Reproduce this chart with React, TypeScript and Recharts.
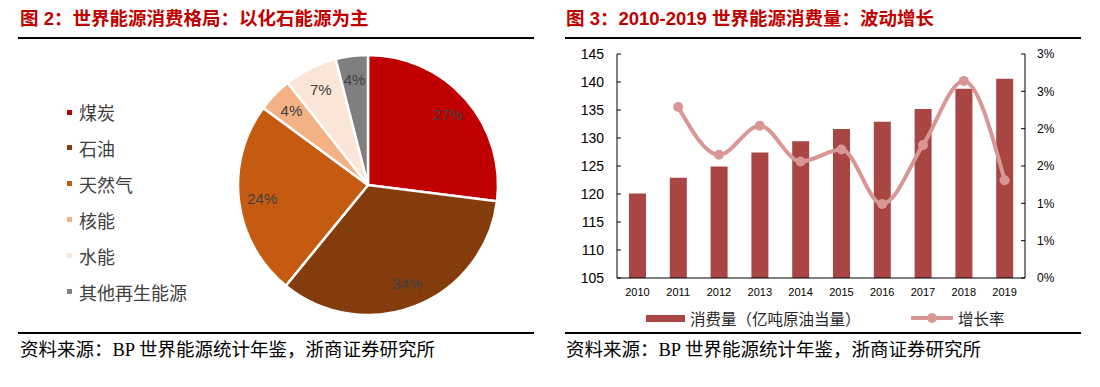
import React from 'react';
import { PieChart, Pie, Cell, ComposedChart, Bar, Line, XAxis, YAxis } from 'recharts';

// 图2 能源消费结构
const pieNames = ['煤炭', '石油', '天然气', '核能', '水能', '其他再生能源'];
const pieShares = [27.0, 33.9, 24.2, 4.3, 6.6, 4.0];
const pieColors = ['#C00000', '#843C0C', '#C55A11', '#F4B183', '#FBE5D6', '#7F7F7F'];

// 图3 2010-2019 消费量与增长率
const years = ['2010', '2011', '2012', '2013', '2014', '2015', '2016', '2017', '2018', '2019'];
const consumption = [120.1, 122.9, 124.9, 127.4, 129.4, 131.6, 132.9, 135.2, 138.8, 140.6];
const growth = [null, 2.29, 1.65, 2.04, 1.56, 1.72, 0.99, 1.78, 2.64, 1.31];
const leftTicks = [105, 110, 115, 120, 125, 130, 135, 140, 145];
const rightTicks = [0, 0.5, 1, 1.5, 2, 2.5, 3];
const boundaryTicks = [1, 2, 3, 4, 5, 6, 7, 8, 9];

const BAR_COLOR = '#A94543';
const LINE_COLOR = '#D89795';
const TITLE_COLOR = '#C00000';
const RAD = Math.PI / 180;

const titleFont = '"Liberation Sans", "Noto Sans CJK SC", sans-serif';
const serifFont = '"Liberation Serif", "Noto Sans CJK SC", serif';
const cjkFont = '"Noto Sans CJK SC", sans-serif';
const numFont = '"Liberation Sans", Arial, sans-serif';

const pieData = pieNames.map((name, i) => ({ name, value: pieShares[i] }));
const barData = years.map((year, i) => ({ year, consumption: consumption[i], growth: growth[i] }));

function PieLabel(props: any) {
  const { cx, cy, midAngle, outerRadius, percent } = props;
  const r = outerRadius * 0.82;
  const x = cx + r * Math.cos(-midAngle * RAD);
  const y = cy + r * Math.sin(-midAngle * RAD);
  return (
    <text x={x} y={y} fill="#404040" fontSize={15} fontFamily={numFont} textAnchor="middle" dominantBaseline="central">
      {`${Math.round(percent * 100)}%`}
    </text>
  );
}

function Rule({ left, top, width }: { left: number; top: number; width: number }) {
  return <div style={{ position: 'absolute', left, top, width, height: 1.5, background: '#000' }} />;
}

function Title({ left, text }: { left: number; text: string }) {
  return (
    <div
      style={{
        position: 'absolute', left, top: 7, fontFamily: titleFont, fontWeight: 'bold',
        fontSize: 18.5, color: TITLE_COLOR, whiteSpace: 'pre', lineHeight: '23px',
      }}
    >
      {text}
    </div>
  );
}

function Source({ left }: { left: number }) {
  return (
    <div
      style={{
        position: 'absolute', left, top: 339, fontFamily: serifFont, fontSize: 18.5,
        color: '#000', whiteSpace: 'pre', lineHeight: '23px',
      }}
    >
      资料来源：BP 世界能源统计年鉴，浙商证券研究所
    </div>
  );
}

export default function App() {
  return (
    <div style={{ position: 'absolute', left: 0, top: 0, width: 1100, height: 387, background: '#fff', overflow: 'hidden' }}>
      {/* left panel */}
      <Title left={20} text={'图 2：世界能源消费格局：以化石能源为主'} />
      <Rule left={18} top={37} width={516} />
      <div style={{ position: 'absolute', left: 0, top: 0 }}>
        <PieChart width={550} height={330} margin={{ top: 0, right: 0, bottom: 0, left: 0 }}>
          <Pie
            data={pieData}
            dataKey="value"
            nameKey="name"
            cx={368}
            cy={185}
            outerRadius={130}
            startAngle={90}
            endAngle={-270}
            stroke="#fff"
            strokeWidth={2.5}
            label={PieLabel}
            labelLine={false}
            isAnimationActive={false}
          >
            {pieData.map((d, i) => (
              <Cell key={d.name} fill={pieColors[i]} />
            ))}
          </Pie>
        </PieChart>
      </div>
      {pieNames.map((name, i) => (
        <div key={name} style={{ position: 'absolute', left: 67, top: 112 + i * 35.9 - 12, height: 24, display: 'flex', alignItems: 'center' }}>
          <div style={{ width: 5, height: 5, background: pieColors[i], marginRight: 7 }} />
          <span style={{ fontFamily: cjkFont, fontSize: 18, color: '#404040', lineHeight: '24px' }}>{name}</span>
        </div>
      ))}
      <Rule left={18} top={332} width={516} />
      <Source left={20} />

      {/* right panel */}
      <Title left={566} text={'图 3：2010-2019 世界能源消费量：波动增长'} />
      <Rule left={565} top={37} width={516} />
      <div style={{ position: 'absolute', left: 550, top: 0 }}>
        <ComposedChart width={550} height={330} data={barData} margin={{ top: 54, right: 25, bottom: 22, left: 17 }}>
          <XAxis
            xAxisId="grid"
            type="number"
            domain={[0, 10]}
            ticks={boundaryTicks}
            allowDataOverflow
            height={0}
            tick={false}
            axisLine={false}
            tickSize={-4}
            tickLine={{ stroke: '#000' }}
          />
          <XAxis
            dataKey="year"
            height={30}
            axisLine={{ stroke: '#000' }}
            tickLine={false}
            tickSize={0}
            tickMargin={10}
            tick={{ fill: '#000', fontSize: 11, fontFamily: numFont }}
          />
          <YAxis
            yAxisId="left"
            width={50}
            domain={[105, 145]}
            ticks={leftTicks}
            allowDataOverflow
            axisLine={{ stroke: '#000' }}
            tickLine={{ stroke: '#000' }}
            tickSize={-4}
            tickMargin={17}
            tick={{ fill: '#000', fontSize: 14, fontFamily: numFont }}
          />
          <YAxis
            yAxisId="right"
            orientation="right"
            width={50}
            domain={[0, 3]}
            ticks={rightTicks}
            allowDataOverflow
            axisLine={{ stroke: '#000' }}
            tickLine={{ stroke: '#000' }}
            tickSize={-4}
            tickMargin={16}
            tickFormatter={(v: number) => `${Math.round(v)}%`}
            tick={{ fill: '#000', fontSize: 12, fontFamily: numFont, textAnchor: 'start' }}
          />
          <Bar yAxisId="left" dataKey="consumption" fill={BAR_COLOR} barSize={17} isAnimationActive={false} />
          <Line
            yAxisId="right"
            dataKey="growth"
            type="monotone"
            stroke={LINE_COLOR}
            strokeWidth={4}
            dot={{ r: 5, fill: LINE_COLOR, stroke: LINE_COLOR, strokeWidth: 0 }}
            activeDot={false}
            isAnimationActive={false}
          />
        </ComposedChart>
      </div>
      {/* right legend */}
      <div style={{ position: 'absolute', left: 646, top: 315, width: 39, height: 7, background: BAR_COLOR }} />
      <div style={{ position: 'absolute', left: 690, top: 306, fontFamily: cjkFont, fontSize: 15.5, color: '#262626', lineHeight: '24px', whiteSpace: 'pre' }}>
        消费量（亿吨原油当量）
      </div>
      <svg style={{ position: 'absolute', left: 910, top: 312 }} width={44} height={12}>
        <line x1={1} y1={6} x2={43} y2={6} stroke={LINE_COLOR} strokeWidth={4} />
        <circle cx={22} cy={6} r={5} fill={LINE_COLOR} />
      </svg>
      <div style={{ position: 'absolute', left: 958, top: 306, fontFamily: cjkFont, fontSize: 15.5, color: '#262626', lineHeight: '24px', whiteSpace: 'pre' }}>
        增长率
      </div>
      <Rule left={565} top={332} width={516} />
      <Source left={566} />
    </div>
  );
}
